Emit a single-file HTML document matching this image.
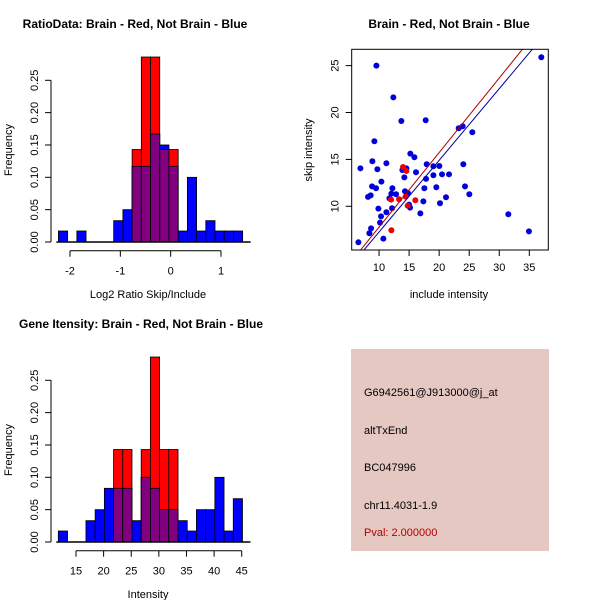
<!DOCTYPE html>
<html><head><meta charset="utf-8"><style>
body{margin:0;background:#fff}
svg{display:block;font-family:"Liberation Sans",sans-serif}
</style></head><body>
<svg id="s" width="600" height="600" viewBox="0 0 600 600">
<rect width="600" height="600" fill="#fff"/>
<g id="tl"></g>
<g id="tr"></g>
<g id="bl"></g>
<g>
<rect x="351" y="349" width="198" height="202" fill="#E6C8C2"/>
<g font-size="11" fill="#000">
<text x="364" y="396">G6942561@J913000@j_at</text>
<text x="364" y="434">altTxEnd</text>
<text x="364" y="471">BC047996</text>
<text x="364" y="509">chr11.4031-1.9</text>
<text x="364" y="536" fill="#B00000">Pval: 2.000000</text>
</g></g>
</svg>
<script>
// ---- data ----
const ratioBlue=[0.017,0,0.017,0,0,0,0.033,0.05,0.117,0.117,0.167,0.15,0.117,0.017,0.1,0.017,0.033,0.017,0.017,0.017];
const ratioRed=[0,0,0,0,0,0,0,0,0.143,0.286,0.286,0.143,0.143,0,0,0,0,0,0,0];
const ratioStart=-2.23, ratioBinW=0.183;
const ratioXTicks=[-2,-1,0,1];
const intBlue=[0.017,0,0,0.033,0.05,0.083,0.083,0.083,0.033,0.1,0.083,0.05,0.05,0.033,0.017,0.05,0.05,0.1,0.017,0.067];
const intRed=[0,0,0,0,0,0,0.143,0.143,0,0.143,0.286,0.143,0.143,0,0,0,0,0,0,0];
const intStart=11.8, intBinW=1.667;
const intXTicks=[15,20,25,30,35,40,45];
const freqTicks=[0,0.05,0.10,0.15,0.20,0.25];
const freqLabels=["0.00","0.05","0.10","0.15","0.20","0.25"];
const blueX=[6.56,6.9,9.56,9.22,8.89,9.72,8.84,9.5,8.17,8.61,9.89,10.39,10.33,10.17,10.72,8.67,8.39,11.22,11.22,12.22,12.05,11.72,12.16,12.83,12.38,13.71,13.88,14.21,14.55,14.32,14.82,14.99,15.16,15.21,15.88,16.15,16.87,17.37,17.54,17.76,17.93,17.82,19.04,19.04,19.53,20.03,20.48,20.14,21.14,21.64,23.25,23.91,25.52,24.02,24.3,25.02,31.51,34.94,37.0];
const blueY=[6.16,14.05,25.0,16.93,14.8,13.95,12.13,11.92,11.0,11.17,9.75,12.63,8.93,8.26,6.55,7.65,7.12,14.59,9.36,11.92,11.35,10.85,9.79,11.28,21.62,19.1,13.87,13.09,14.05,11.6,11.39,10.18,9.86,15.62,15.23,13.63,9.25,10.53,11.92,19.17,14.48,12.92,13.31,14.27,12.03,14.3,13.41,10.32,10.96,13.41,18.32,18.53,17.89,14.48,12.13,11.28,9.15,7.33,25.89];
const redX=[12.0,13.33,13.99,14.55,14.43,16.04,12.05,14.77];
const redY=[10.71,10.75,14.19,13.77,11.03,10.64,7.44,10.07];
const redLine=[-0.17,0.795];
const blueLine=[-0.38,0.764];
const scXTicks=[10,15,20,25,30,35];
const scYTicks=[10,15,20,25];

const NS="http://www.w3.org/2000/svg";
function mk(p,tag,at,txt){const e=document.createElementNS(NS,tag);for(const k in at)e.setAttribute(k,at[k]);if(txt!=null)e.textContent=txt;p.appendChild(e);return e;}

function hist(gid,top,title,xlab,blue,red,start,bw,xt,sx0,sx1,titleX){
  const g=document.getElementById(gid);
  const yb=top+202, yPer=(161.7/0.25);
  const Y=v=>yb-v*yPer;
  const X=v=>sx0+(v-xt[0])*(sx1-sx0)/(xt[xt.length-1]-xt[0]);
  for(let i=0;i<blue.length;i++){
    const x0=X(start+i*bw), x1=X(start+(i+1)*bw);
    const b=blue[i], r=red[i];
    if(b>0){const e=mk(g,'rect',{x:x0,y:Y(b),width:x1-x0,height:Y(0)-Y(b),fill:'#0000FF',stroke:'#000','stroke-width':0.8});
      
      }
    if(r>0){const e=mk(g,'rect',{x:x0,y:Y(r),width:x1-x0,height:Y(0)-Y(r),fill:'#FF0000',stroke:'#000','stroke-width':0.8});
      
      }
    const m=Math.min(b,r);
    if(m>0){const e=mk(g,'rect',{x:x0,y:Y(m),width:x1-x0,height:Y(0)-Y(m),fill:'#800080',stroke:'#000','stroke-width':0.8});
      
      }
  }
  mk(g,'line',{x1:X(start)-2,x2:X(start+blue.length*bw)+8,y1:yb,y2:yb,stroke:'#000','stroke-width':1.5});
  mk(g,'line',{x1:51,x2:51,y1:Y(0),y2:Y(0.25),stroke:'#000'});
  freqTicks.forEach((t,i)=>{mk(g,'line',{x1:45,x2:51,y1:Y(t),y2:Y(t),stroke:'#000'});
    const e=mk(g,'text',{x:0,y:0,'font-size':11,'text-anchor':'middle',transform:`translate(38,${Y(t)}) rotate(-90)`},freqLabels[i]);
    
    });
  const ay=top+210.7;
  mk(g,'line',{x1:X(xt[0]),x2:X(xt[xt.length-1]),y1:ay,y2:ay,stroke:'#000'});
  xt.forEach(t=>{mk(g,'line',{x1:X(t),x2:X(t),y1:ay,y2:ay+6,stroke:'#000'});
    const e=mk(g,'text',{x:X(t),y:ay+24,'font-size':11,'text-anchor':'middle'},String(t));
    
    });
  let e=mk(g,'text',{x:0,y:0,'font-size':11,'text-anchor':'middle',transform:`translate(12,${top+110}) rotate(-90)`},'Frequency');
  
  
  e=mk(g,'text',{x:148,y:top+258,'font-size':11,'text-anchor':'middle'},xlab);
  
  
  e=mk(g,'text',{x:titleX,y:top-12,'font-size':12,'font-weight':'bold','text-anchor':'middle'},title);
  
  
}
hist('tl',40,'RatioData: Brain - Red, Not Brain - Blue','Log2 Ratio Skip/Include',ratioBlue,ratioRed,ratioStart,ratioBinW,ratioXTicks,70,221,135);
hist('bl',340,'Gene Itensity: Brain - Red, Not Brain - Blue','Intensity',intBlue,intRed,intStart,intBinW,intXTicks,76,241.7,141);

(function(){
  const g=document.getElementById('tr');
  const L=351.7,R=548.3,T=49.3,B=250;
  const x0=5.45,x1=38.16,y0=5.34,y1=26.74;
  const X=v=>L+(v-x0)*(R-L)/(x1-x0), Y=v=>B-(v-y0)*(B-T)/(y1-y0);
  mk(g,'defs',{}).innerHTML='<clipPath id="cp"><rect x="'+L+'" y="'+T+'" width="'+(R-L)+'" height="'+(B-T)+'"/></clipPath>';
  blueX.forEach((v,i)=>{const e=mk(g,'circle',{cx:X(v),cy:Y(blueY[i]),r:3,fill:'#0000DD'});
    
    });
  redX.forEach((v,i)=>{const e=mk(g,'circle',{cx:X(v),cy:Y(redY[i]),r:3,fill:'#EE0000'});
    
    });
  [[redLine,'#B00000','red-fit-line'],[blueLine,'#0000A0','blue-fit-line']].forEach(([c,col,nm])=>{
    const e=mk(g,'line',{x1:X(x0),y1:Y(c[0]+c[1]*x0),x2:X(x1),y2:Y(c[0]+c[1]*x1),stroke:col,'stroke-width':1,'clip-path':'url(#cp)'});
    
    });
  mk(g,'rect',{x:L,y:T,width:R-L,height:B-T,fill:'none',stroke:'#000'});
  scXTicks.forEach(t=>{mk(g,'line',{x1:X(t),x2:X(t),y1:B,y2:B+6,stroke:'#000'});
    const e=mk(g,'text',{x:X(t),y:B+21,'font-size':11,'text-anchor':'middle'},t);
    
    });
  scYTicks.forEach(t=>{mk(g,'line',{x1:L-6,x2:L,y1:Y(t),y2:Y(t),stroke:'#000'});
    const e=mk(g,'text',{x:0,y:0,'font-size':11,'text-anchor':'middle',transform:`translate(${L-13},${Y(t)}) rotate(-90)`},t);
    
    });
  let e=mk(g,'text',{x:449,y:298,'font-size':11,'text-anchor':'middle'},'include intensity');
  
  
  e=mk(g,'text',{x:0,y:0,'font-size':11,'text-anchor':'middle',transform:'translate(312,150) rotate(-90)'},'skip intensity');
  
  
  e=mk(g,'text',{x:449,y:28,'font-size':12,'font-weight':'bold','text-anchor':'middle'},'Brain - Red, Not Brain - Blue');
  
  
})();
</script>
</body></html>
